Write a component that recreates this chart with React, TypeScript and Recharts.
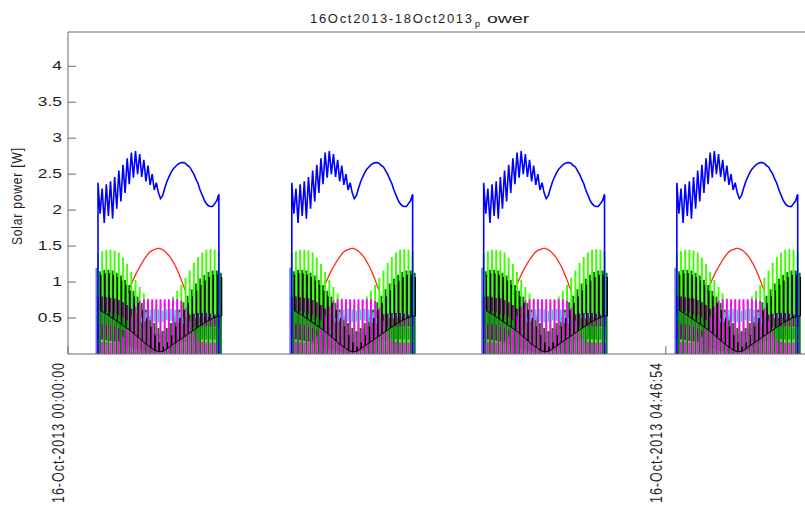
import { ComposedChart, Line, XAxis, YAxis } from "recharts";

// Daylight blocks: start of each block in minutes after 16-Oct-2013 00:00:00
const DAY_STARTS = [14.4, 107.4, 199.5, 292.2];

// Total output: flips between a peak (even minute, 30 values) and a trough (odd minute, 29 values)
const BLUE_HI = [2.38, 2.3, 2.36, 2.4, 2.46, 2.55, 2.63, 2.72, 2.8, 2.82, 2.78, 2.7, 2.62, 2.5, 2.38, 2.16, 2.3, 2.46, 2.57, 2.63, 2.66, 2.65, 2.6, 2.5, 2.37, 2.21, 2.09, 2.05, 2.09, 2.22];
const BLUE_LO = [1.95, 1.82, 1.92, 1.88, 2.02, 2.12, 2.24, 2.36, 2.45, 2.5, 2.46, 2.4, 2.35, 2.28, 2.24, 2.2, 2.39, 2.52, 2.6, 2.65, 2.66, 2.62, 2.55, 2.43, 2.28, 2.14, 2.06, 2.05, 2.13];

const RED_HI = [null, null, null, null, null, null, null, 0.82, 0.97, 1.1, 1.21, 1.31, 1.39, 1.44, 1.46, 1.46, 1.43, 1.37, 1.28, 1.17, 1.03, 0.88, null, null, null, null, null, null, null, null];
const RED_LO = [null, null, null, null, null, null, null, 0.9, 1.04, 1.16, 1.26, 1.35, 1.42, 1.45, 1.47, 1.45, 1.4, 1.33, 1.23, 1.1, 0.95, null, null, null, null, null, null, null, null];

// Panel readings: one pulse every 2 minutes, from the low level up to the high level
const EDGE_HI = [1.2, null, null, null, null, null, null, null, null, null, null, null, null, null, null, null, null, null, null, null, null, null, null, null, null, null, null, null, null, 1.15];
const EDGE_LO = [0, null, null, null, null, null, null, null, null, null, null, null, null, null, null, null, null, null, null, null, null, null, null, null, null, null, null, null, null, 0];

const LIME_HI = [1.4, 1.43, 1.45, 1.45, 1.44, 1.41, 1.34, 1.25, 1.14, 1.03, 0.93, 0.84, 0.77, 0.72, 0.69, 0.68, 0.7, 0.74, 0.8, 0.88, 0.96, 1.06, 1.16, 1.27, 1.35, 1.41, 1.45, 1.46, 1.45, 1.42];
const LIME_LO = [0, 0, 0, 0, 0, 0, 0, 0, 0, 0, 0, 0, 0, 0, 0, 0, 0, 0, 0, 0, 0, 0, 0, 0, 0, 0, 0, 0, 0, 0];

const DKGREEN_HI = [1.15, 1.17, 1.17, 1.16, 1.13, 1.09, 1.03, 0.96, 0.88, 0.8, 0.71, 0.62, 0.52, 0.43, 0.36, 0.32, 0.36, 0.43, 0.52, 0.62, 0.72, 0.81, 0.9, 0.98, 1.05, 1.1, 1.14, 1.16, 1.16, 1.13];
const DKGREEN_LO = [0, 0, 0, 0, 0, 0, 0, 0, 0, 0, 0, 0, 0, 0, 0, 0, 0, 0, 0, 0, 0, 0, 0, 0, 0, 0, 0, 0, 0, 0];

const PURPLE_HI = [0.8, 0.8, 0.79, 0.78, 0.77, 0.75, 0.72, 0.68, 0.63, 0.57, 0.5, 0.44, 0.38, 0.33, 0.3, 0.29, 0.31, 0.35, 0.4, 0.45, 0.49, 0.52, 0.55, 0.56, 0.57, 0.57, 0.57, 0.56, 0.55, 0.54];
const PURPLE_LO = [0.2, 0.2, 0.19, 0.18, 0.17, 0.15, 0.13, 0.11, 0.09, 0.07, 0.05, 0.04, 0.03, 0.02, 0.02, 0.02, 0.03, 0.05, 0.08, 0.12, 0.18, 0.24, 0.3, 0.34, 0.37, 0.38, 0.38, 0.38, 0.38, 0.38];

const GREEN_HI = [0.6, 0.6, 0.59, 0.58, 0.56, 0.54, 0.51, 0.47, 0.43, 0.38, 0.33, 0.28, 0.23, 0.19, 0.16, 0.15, 0.16, 0.18, 0.21, 0.25, 0.29, 0.32, 0.35, 0.37, 0.38, 0.38, 0.38, 0.38, 0.37, 0.37];
const GREEN_LO = [0.42, 0.42, 0.41, 0.4, 0.38, 0.36, 0.33, 0.3, 0.26, 0.22, 0.18, 0.14, 0.11, 0.08, 0.06, 0.06, 0.07, 0.09, 0.11, 0.13, 0.15, 0.17, 0.18, 0.19, 0.2, 0.2, 0.2, 0.2, 0.2, 0.2];

const MAGENTA_HI = [0.18, 0.17, 0.17, 0.16, 0.16, 0.18, 0.24, 0.36, 0.52, 0.66, 0.74, 0.76, 0.76, 0.76, 0.76, 0.76, 0.76, 0.76, 0.76, 0.76, 0.74, 0.64, 0.46, 0.3, 0.2, 0.17, 0.16, 0.16, 0.16, 0.16];
const MAGENTA_LO = [0, 0, 0, 0, 0, 0, 0, 0, 0, 0, 0, 0, 0, 0, 0, 0, 0, 0, 0, 0, 0, 0, 0, 0, 0, 0, 0, 0, 0, 0];

const CYAN_HI = [null, null, null, null, null, null, null, null, null, null, 0.5, 0.58, 0.62, 0.63, 0.62, 0.6, 0.62, 0.63, 0.62, 0.58, 0.5, null, null, 0.55, 0.56, 0.57, 0.57, 0.56, null, null];
const CYAN_LO = [null, null, null, null, null, null, null, null, null, null, 0.44, 0.46, 0.47, 0.45, 0.44, 0.45, 0.47, 0.46, 0.44, 0.43, 0.42, null, null, 0.5, 0.5, 0.51, 0.51, 0.5, null, null];

const BLACK_HI = [1.1, 1.12, 1.12, 1.1, 1.07, 1.02, 0.96, 0.88, 0.8, 0.71, 0.61, 0.5, 0.38, 0.26, 0.16, 0.1, 0.16, 0.26, 0.38, 0.5, 0.61, 0.71, 0.8, 0.88, 0.96, 1.02, 1.07, 1.1, 1.1, 1.07];
const BLACK_LO = [0.6, 0.57, 0.53, 0.49, 0.45, 0.41, 0.37, 0.33, 0.28, 0.23, 0.18, 0.13, 0.09, 0.05, 0.03, 0.04, 0.08, 0.12, 0.16, 0.2, 0.24, 0.28, 0.32, 0.36, 0.4, 0.44, 0.47, 0.5, 0.52, 0.53];

const Y_TICKS = [0.5, 1, 1.5, 2, 2.5, 3, 3.5, 4];
const X_TICKS = [0, 286.9];
const X_MAX = 353.7;
const Y_MAX = 4.476;

const AXIS = "#6b6b6b";
const FONT = "'Liberation Sans', Arial, Helvetica, sans-serif";
const INK = "#1e1e1e";

type Pt = { t: number; v: number | null };
type Vals = (number | null)[];

// continuous trace: peak, trough, peak ... with a drop to zero at both ends of the day
function trace(hi: Vals, lo: Vals, toZero: boolean): Pt[] {
  const pts: Pt[] = [];
  for (const start of DAY_STARTS) {
    if (toZero) pts.push({ t: start, v: 0 });
    for (let m = 0; m < hi.length * 2 - 1; m++) {
      pts.push({ t: start + m, v: m % 2 === 0 ? hi[m / 2] : lo[(m - 1) / 2] });
    }
    const end = start + hi.length * 2 - 2;
    if (toZero) pts.push({ t: end, v: 0 });
    pts.push({ t: end + 1, v: null });
  }
  return pts;
}

// pulse trace: a vertical stroke per reading, optionally joined along the low level
function pulses(hi: Vals, lo: Vals, phase: number, join: boolean): Pt[] {
  const pts: Pt[] = [];
  for (const start of DAY_STARTS) {
    hi.forEach((h, k) => {
      const t = start + 2 * k + phase;
      const l = lo[k];
      if (h == null || l == null) {
        pts.push({ t, v: null });
        return;
      }
      pts.push({ t, v: l }, { t, v: h }, { t, v: l });
      if (!join) pts.push({ t, v: null });
    });
    pts.push({ t: start + hi.length * 2, v: null });
  }
  return pts;
}

// drawing order matters: later series sit on top
const SERIES: { key: string; color: string; width: number; data: Pt[] }[] = [
  { key: "red", color: "#ff2a1a", width: 1.3, data: trace(RED_HI, RED_LO, false) },
  { key: "edge", color: "#6f6fff", width: 2.5, data: pulses(EDGE_HI, EDGE_LO, -0.6, false) },
  { key: "lime", color: "#3cff00", width: 1.9, data: pulses(LIME_HI, LIME_LO, 0, false) },
  { key: "dkgreen", color: "#008000", width: 1.9, data: pulses(DKGREEN_HI, DKGREEN_LO, 1, false) },
  { key: "purple", color: "#800080", width: 1.9, data: pulses(PURPLE_HI, PURPLE_LO, 0, false) },
  { key: "green", color: "#1a9a10", width: 1.9, data: pulses(GREEN_HI, GREEN_LO, 0, false) },
  { key: "magenta", color: "#ff00ff", width: 1.9, data: pulses(MAGENTA_HI, MAGENTA_LO, 0, false) },
  { key: "cyan", color: "#30cff0", width: 1.6, data: pulses(CYAN_HI, CYAN_LO, 1, false) },
  { key: "black", color: "#000000", width: 1, data: pulses(BLACK_HI, BLACK_LO, 1.35, true) },
  { key: "blue", color: "#0000ff", width: 1.6, data: trace(BLUE_HI, BLUE_LO, true) },
];

function stamp(minutes: number) {
  const secs = Math.round(minutes * 60);
  const pad = (n: number) => String(n).padStart(2, "0");
  return `16-Oct-2013 ${pad(Math.floor(secs / 3600))}:${pad(Math.floor((secs % 3600) / 60))}:${pad(secs % 60)}`;
}

function TimeTick(props: any) {
  const { x, y, payload } = props;
  return (
    <g>
      <line x1={x} y1={y} x2={x} y2={y - 8} stroke={AXIS} />
      <text
        transform={`translate(${x - 4},${y + 9}) scale(1.3,1) rotate(-90)`}
        textAnchor="end"
        textLength={140}
        lengthAdjust="spacing"
        fontSize={12.5}
        fontFamily={FONT}
        fill={INK}
      >
        {stamp(payload.value)}
      </text>
    </g>
  );
}

function PowerTick(props: any) {
  const { x, y, payload } = props;
  return (
    <g>
      <line x1={x + 6} y1={y} x2={x + 14} y2={y} stroke={AXIS} />
      <text
        transform={`translate(${x},${y}) scale(1.45,1)`}
        textAnchor="end"
        dy="0.35em"
        fontSize={12}
        fontFamily={FONT}
        fill={INK}
      >
        {payload.value}
      </text>
    </g>
  );
}

function PowerTitle() {
  return (
    <text
      transform="translate(21.5,196.5) scale(1.25,1) rotate(-90)"
      textAnchor="middle"
      textLength={97}
      lengthAdjust="spacing"
      fontSize={12}
      fontFamily={FONT}
      fill={INK}
    >
      Solar power [W]
    </text>
  );
}

function ChartTitle() {
  return (
    <g fontFamily={FONT} fill={INK}>
      <text x={310} y={23} fontSize={13} textLength={162} lengthAdjust="spacing">
        16Oct2013-18Oct2013
      </text>
      <text x={475} y={27} fontSize={9}>
        p
      </text>
      <text transform="translate(487,23) scale(1.5,1)" fontSize={13}>
        ower
      </text>
    </g>
  );
}

export default function App() {
  return (
    <div style={{ position: "absolute", left: 0, top: 0, background: "#fff" }}>
      <ComposedChart width={805} height={507} margin={{ top: 32, right: 0, bottom: 0, left: 0 }}>
        <XAxis
          dataKey="t"
          type="number"
          domain={[0, X_MAX]}
          ticks={X_TICKS}
          interval={0}
          allowDataOverflow
          height={153}
          tickSize={0}
          tickMargin={0}
          tickLine={false}
          axisLine={{ stroke: AXIS }}
          tick={<TimeTick />}
        />
        <XAxis
          xAxisId="top"
          dataKey="t"
          type="number"
          orientation="top"
          domain={[0, X_MAX]}
          ticks={[X_TICKS[1]]}
          interval={0}
          allowDataOverflow
          height={1}
          mirror
          tick={false}
          tickSize={8}
          tickLine={{ stroke: AXIS }}
          axisLine={{ stroke: AXIS }}
          label={<ChartTitle />}
        />
        <YAxis
          type="number"
          domain={[0, Y_MAX]}
          ticks={Y_TICKS}
          interval={0}
          allowDataOverflow
          width={68}
          tickSize={0}
          tickMargin={6}
          tickLine={false}
          axisLine={{ stroke: AXIS }}
          tick={<PowerTick />}
          label={<PowerTitle />}
        />
        <YAxis
          yAxisId="right"
          type="number"
          orientation="right"
          domain={[0, Y_MAX]}
          ticks={Y_TICKS}
          interval={0}
          allowDataOverflow
          width={1}
          mirror
          tick={false}
          tickSize={8}
          tickLine={{ stroke: AXIS }}
          axisLine={false}
        />
        {SERIES.map((s) => (
          <Line
            key={s.key}
            data={s.data}
            dataKey="v"
            type="linear"
            stroke={s.color}
            strokeWidth={s.width}
            dot={false}
            activeDot={false}
            isAnimationActive={false}
          />
        ))}
      </ComposedChart>
    </div>
  );
}
